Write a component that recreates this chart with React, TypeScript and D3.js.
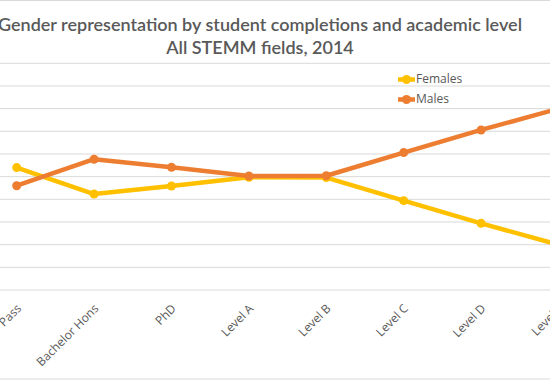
import React from "react";
import * as d3 from "d3";

const categories = ["Bachelor Pass", "Bachelor Hons", "PhD", "Level A", "Level B", "Level C", "Level D", "Level E"];
const females = [54.0, 42.3, 45.9, 49.7, 49.6, 39.4, 29.4, 20.0];
const males = [46.0, 57.7, 54.1, 50.3, 50.4, 60.6, 70.6, 80.0];
const yTicks = [0, 10, 20, 30, 40, 50, 60, 70, 80, 90, 100];
const titleLines = ["Gender representation by student completions and academic level", "All STEMM fields, 2014"];
const seriesNames = ["Females", "Males"];
const colors = ["#FFC000", "#ED7D31"];

export default function App() {
  const W = 550, H = 380;
  const x = d3.scalePoint<string>().domain(categories).range([16.7, 558.5]);
  const y = d3.scaleLinear().domain([0, 100]).range([290, 63.3]);
  const line = d3.line<number>().x((_, i) => x(categories[i])!).y((d) => y(d));
  const series = [females, males];
  const font = "'Open Sans', 'DejaVu Sans', sans-serif";
  return (
    <svg width={W} height={H} style={{ position: "absolute", left: 0, top: 0, background: "#fff" }}>
      <rect x={-5} y={0.5} width={W + 10} height={H - 1.5} fill="#fff" stroke="#d9d9d9" strokeWidth={1} />
      {titleLines.map((t, i) => (
        <text key={i} x={260} y={31 + i * 23} textAnchor="middle" fontFamily="Lato, 'Open Sans', sans-serif" fontWeight={600} fontSize={18} fill="#595959">
          {t}
        </text>
      ))}
      {yTicks.map((t) => (
        <line key={t} x1={0} x2={W} y1={y(t)} y2={y(t)} stroke="#d9d9d9" strokeWidth={1} />
      ))}
      {categories.map((c) => (
        <text key={c} transform={`translate(${x(c)! + 3},${307}) rotate(-45)`} textAnchor="end" dominantBaseline="middle" fontFamily={font} fontSize={12} fill="#595959">
          {c}
        </text>
      ))}
      {series.map((s, si) => (
        <g key={si}>
          <path d={line(s)!} fill="none" stroke={colors[si]} strokeWidth={4.5} strokeLinejoin="round" />
          {s.map((v, i) => (
            <circle key={i} cx={x(categories[i])} cy={y(v)} r={4.5} fill={colors[si]} />
          ))}
        </g>
      ))}
      {seriesNames.map((n, i) => (
        <g key={n} transform={`translate(398,${79.5 + i * 20})`}>
          <line x1={0} x2={17} y1={0} y2={0} stroke={colors[i]} strokeWidth={4.5} />
          <circle cx={8.5} cy={0} r={4.5} fill={colors[i]} />
          <text x={18} y={0} dominantBaseline="middle" fontFamily={font} fontSize={12} fill="#595959">
            {n}
          </text>
        </g>
      ))}
    </svg>
  );
}
